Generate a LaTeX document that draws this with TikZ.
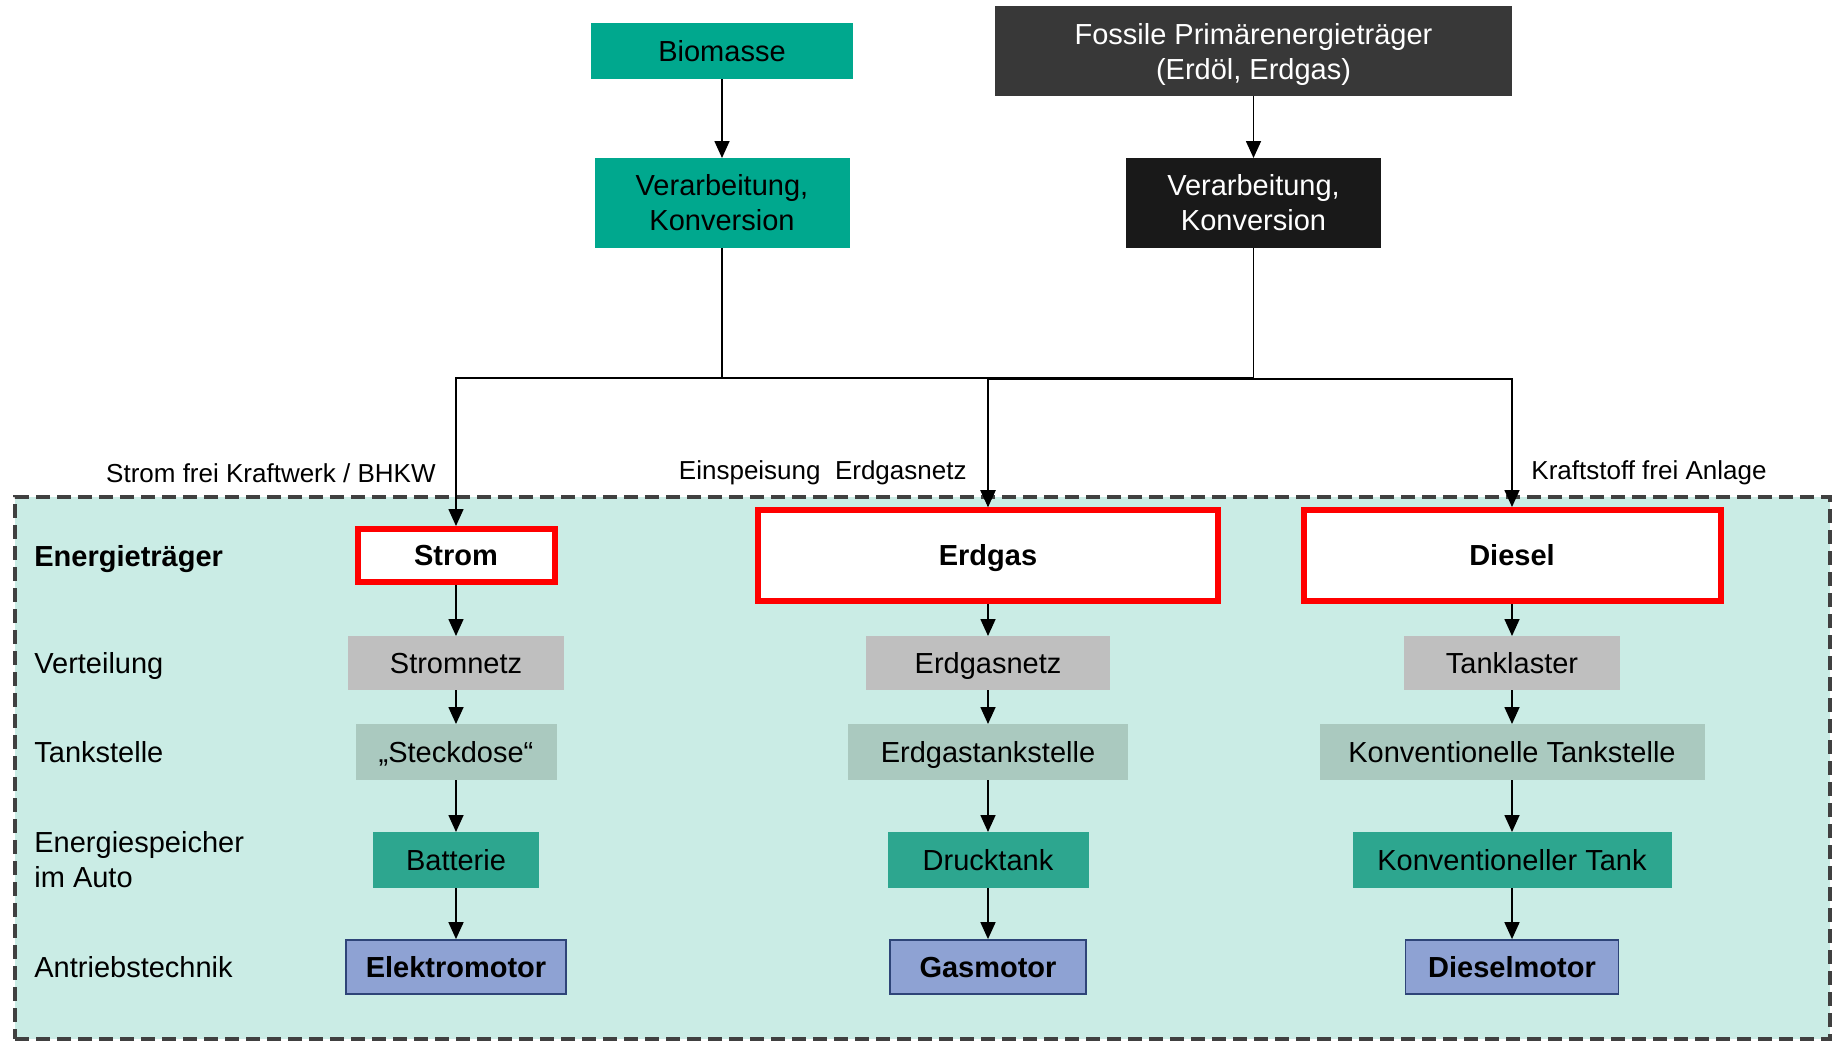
\documentclass[tikz,border=0pt]{standalone}
\usepackage{fontspec}
\setmainfont{Liberation Sans}
\usetikzlibrary{arrows.meta}
\definecolor{bioteal}{HTML}{00A88E}
\definecolor{fossgray}{HTML}{383838}
\definecolor{fossdark}{HTML}{191919}
\definecolor{bgteal}{RGB}{202,236,229}
\definecolor{dashgray}{HTML}{404040}
\definecolor{distgray}{HTML}{BFBFBF}
\definecolor{stationc}{HTML}{AAC9BF}
\definecolor{storec}{HTML}{2DA68F}
\definecolor{motorc}{HTML}{8EA2D3}
\definecolor{motorb}{HTML}{2E4478}
\newcommand{\mainf}{\fontsize{14.5pt}{17.5pt}\selectfont}
\newcommand{\labf}{\fontsize{13pt}{15.5pt}\selectfont}
\begin{document}
\begin{tikzpicture}[x=0.5pt,y=-0.5pt,
  box/.style={rectangle, inner sep=0pt, outer sep=0pt, align=center, font=\mainf, minimum height=28pt},
  one/.style={text height=13pt, text depth=2.6pt},
  srcbox/.style={box, fill=bioteal},
  fossbox/.style={box, text=white, minimum height=45pt},
  redbox/.style={box, one, draw=red, line width=3pt, fill=white, font=\mainf\bfseries, outer sep=1.5pt},
  distbox/.style={box, one, fill=distgray, minimum height=27pt},
  statbox/.style={box, one, fill=stationc},
  storebox/.style={box, one, fill=storec},
  motorbox/.style={box, one, fill=motorc, draw=motorb, line width=0.9pt, font=\mainf\bfseries, outer sep=0.45pt},
  rowlab/.style={anchor=west, align=left, font=\mainf, inner sep=0pt},
  arrlab/.style={font=\labf, inner sep=0pt},
  arr/.style={-{Triangle[width=7.5pt,length=8.5pt]}, line width=0.8pt},
  conn/.style={line width=0.8pt}
]
\useasboundingbox (0,0) rectangle (1832,1041);

% region
\node[draw=dashgray, fill=bgteal, line width=1.75pt, dash pattern=on 7pt off 3.5pt,
      minimum width=907.5pt, minimum height=271pt, inner sep=0pt] (region) at (922.5,768) {};

% sources
\node[srcbox, one, minimum width=131pt] (bio) at (722,51) {Biomasse};
\node[srcbox, minimum width=127.5pt, minimum height=45pt] (verb) at (722,203) {Verarbeitung,\\Konversion};
\node[fossbox, fill=fossgray, minimum width=258.5pt] (foss) at (1253.5,51) {\rule{0pt}{14pt}Fossile Primärenergieträger\\(Erdöl, Erdgas)};
\node[fossbox, fill=fossdark, minimum width=127.5pt] (verf) at (1253.5,203) {Verarbeitung,\\Konversion};

\draw[arr] (bio) -- (verb);
\draw[arr] (foss) -- (verf);

% row labels
\node[rowlab, one, font=\mainf\bfseries] (l1) at (34,556) {Energieträger};
\node[rowlab, one] (l2) at (34,663) {Verteilung};
\node[rowlab, one] (l3) at (34,752) {Tankstelle};
\node[rowlab] (l4) at (34,860) {Energiespeicher\\im Auto};
\node[rowlab, one] (l5) at (34,967) {Antriebstechnik};

% energy carriers
\node[redbox, minimum width=98.5pt, minimum height=26.5pt] (strom) at (456,555.5) {Strom};
\node[redbox, minimum width=230pt, minimum height=45.5pt] (erdgas) at (988,555.5) {Erdgas};
\node[redbox, minimum width=208.5pt, minimum height=45.5pt] (diesel) at (1512,555.5) {Diesel};

% distribution
\node[distbox, minimum width=108pt] (d1) at (456,663) {Stromnetz};
\node[distbox, minimum width=122pt] (d2) at (988,663) {Erdgasnetz};
\node[distbox, minimum width=108pt] (d3) at (1512,663) {Tanklaster};

% stations
\node[statbox, minimum width=100.5pt] (t1) at (456,752) {„Steckdose“};
\node[statbox, minimum width=140pt] (t2) at (988,752) {Erdgastankstelle};
\node[statbox, minimum width=192.5pt] (t3) at (1512,752) {Konventionelle Tankstelle};

% storage
\node[storebox, minimum width=83pt] (s1) at (456,860) {Batterie};
\node[storebox, minimum width=100.5pt] (s2) at (988,860) {Drucktank};
\node[storebox, minimum width=159.5pt] (s3) at (1512,860) {Konventioneller Tank};

% motors
\node[motorbox, minimum width=110pt, minimum height=27pt] (m1) at (456,967) {Elektromotor};
\node[motorbox, minimum width=98pt, minimum height=27pt] (m2) at (988,967) {Gasmotor};
\node[motorbox, minimum width=106.5pt, minimum height=27pt] (m3) at (1512,967) {Dieselmotor};

% bus
\coordinate (busL) at (0,378);
\coordinate (busR) at (0,379);
\draw[arr] (verb.south) -- (verb.south |- busL) -| (strom.north);
\draw[arr] (verb.south) -- (verb.south |- busL) -| (erdgas.north);
\draw[conn] (verb.south |- busL) -- (verf.south |- busL);
\draw[arr] (verf.south) -- (verf.south |- busR) -| (erdgas.north);
\draw[arr] (verf.south) -- (verf.south |- busR) -| (diesel.north);

% arrow labels
\node[arrlab, anchor=east] (a1) at (436,473) {Strom frei Kraftwerk / BHKW};
\node[arrlab, anchor=east] (a2) at (967,473) {Einspeisung\ \ Erdgasnetz};
\node[arrlab, anchor=west] (a3) at (1531,473) {Kraftstoff frei Anlage};

% vertical chains
\foreach \a/\b in {strom/d1, d1/t1, t1/s1, s1/m1,
                   erdgas/d2, d2/t2, t2/s2, s2/m2,
                   diesel/d3, d3/t3, t3/s3, s3/m3}
  \draw[arr] (\a.south) -- (\b.north);
\end{tikzpicture}
\end{document}
